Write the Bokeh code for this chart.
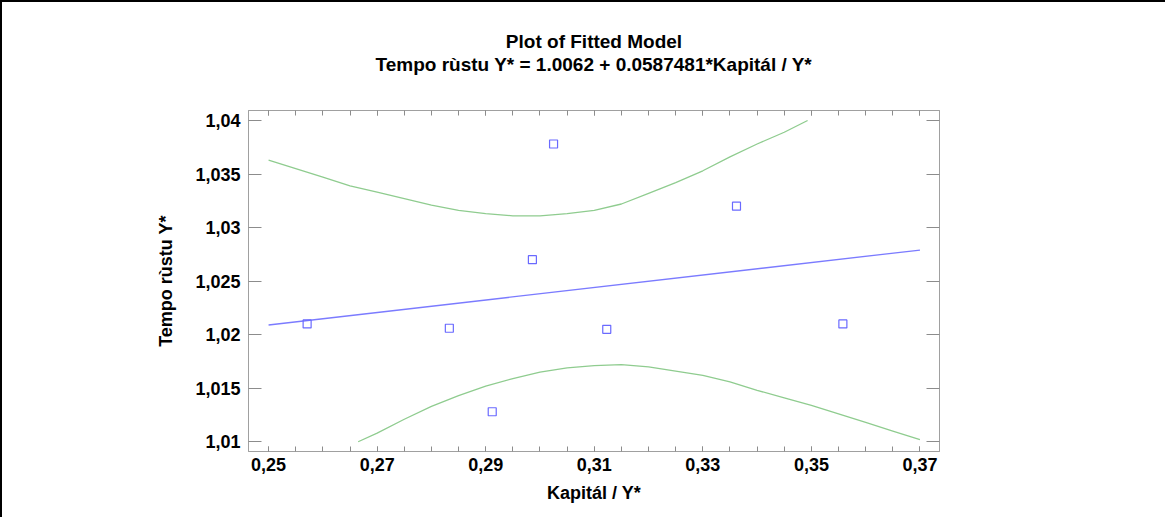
from bokeh.plotting import figure
from bokeh.models import LinearAxis, Title, FixedTicker, Range1d, CustomLabelingPolicy
from bokeh.embed import file_html
from bokeh.resources import INLINE

# observed data (Kapitál / Y*, Tempo rùstu Y*)
x_obs = [0.2571, 0.2833, 0.2912, 0.2986, 0.3025, 0.3123, 0.3362, 0.3558]
y_obs = [1.0210, 1.0206, 1.0128, 1.0270, 1.0378, 1.0205, 1.0320, 1.0210]

# fitted line endpoints
fit_x = [0.25, 0.37]
fit_y = [1.0209, 1.0279]

# confidence limits (upper)
up_x = [0.25, 0.255, 0.26, 0.265, 0.27, 0.275, 0.28, 0.285, 0.29, 0.295, 0.30,
        0.305, 0.31, 0.315, 0.32, 0.325, 0.33, 0.335, 0.34, 0.345, 0.3493]
up_y = [1.0363, 1.0355, 1.0347, 1.0339, 1.0333, 1.0327, 1.0321, 1.0316, 1.0313,
        1.0311, 1.0311, 1.0313, 1.0316, 1.0322, 1.0332, 1.0342, 1.0353, 1.0366,
        1.0378, 1.0389, 1.0400]

# confidence limits (lower)
lo_x = [0.2665, 0.27, 0.275, 0.28, 0.285, 0.29, 0.295, 0.30, 0.305, 0.31, 0.315,
        0.32, 0.325, 0.33, 0.335, 0.34, 0.345, 0.35, 0.355, 0.36, 0.365, 0.37]
lo_y = [1.0100, 1.0108, 1.0121, 1.0133, 1.0143, 1.0152, 1.0159, 1.0165, 1.0169,
        1.0171, 1.0172, 1.0170, 1.0166, 1.0162, 1.0156, 1.0148, 1.0141, 1.0134,
        1.0126, 1.0118, 1.0110, 1.0102]

x_ticks = [0.25, 0.27, 0.29, 0.31, 0.33, 0.35, 0.37]
x_tick_labels = ["0,25", "0,27", "0,29", "0,31", "0,33", "0,35", "0,37"]
x_minor = [0.25, 0.255, 0.26, 0.265, 0.27, 0.275, 0.28, 0.285, 0.29, 0.295, 0.30,
           0.305, 0.31, 0.315, 0.32, 0.325, 0.33, 0.335, 0.34, 0.345, 0.35, 0.355,
           0.36, 0.365, 0.37]
y_ticks = [1.01, 1.015, 1.02, 1.025, 1.03, 1.035, 1.04]
y_tick_labels = ["1,01", "1,015", "1,02", "1,025", "1,03", "1,035", "1,04"]

title_1 = "Plot of Fitted Model"
title_2 = "Tempo rùstu Y* = 1.0062 + 0.0587481*Kapitál / Y*"
x_label = "Kapitál / Y*"
y_label = "Tempo rùstu Y*"

FONT = "Liberation Sans"
GREY = "#a0a0a0"
TICK = "#8c8c8c"

p = figure(width=1165, height=517, output_backend="svg", toolbar_location=None,
           title=None,
           x_range=Range1d(0.2463, 0.3736), y_range=Range1d(1.00909, 1.04093),
           x_axis_label=x_label, y_axis_label=y_label,
           min_border_left=246, min_border_right=228, min_border_top=108,
           min_border_bottom=68)
p.styles = {"border-top": "2px solid black", "border-left": "2px solid black"}
p.xgrid.visible = False
p.ygrid.visible = False
p.outline_line_color = GREY
p.background_fill_color = "white"
p.border_fill_color = "white"

xt = FixedTicker(ticks=x_ticks, minor_ticks=x_minor)
yt = FixedTicker(ticks=y_ticks, minor_ticks=[])
no_labels = CustomLabelingPolicy(code="return new Set()")

def style_x(ax, labels=True):
    ax.ticker = xt
    ax.major_tick_in = 5
    ax.major_tick_out = 0
    ax.minor_tick_in = 5
    ax.minor_tick_out = 0
    ax.axis_line_color = GREY
    ax.major_tick_line_color = TICK
    ax.minor_tick_line_color = TICK
    ax.major_label_text_font = FONT
    ax.major_label_text_font_style = "bold"
    ax.major_label_text_color = "black"
    ax.major_label_standoff = 6
    if labels:
        ax.major_label_overrides = dict(zip(x_ticks, x_tick_labels))
        ax.major_label_text_font_size = "18px"
    else:
        ax.major_label_policy = no_labels
        ax.major_label_text_font_size = "1px"
        ax.major_label_standoff = 32

def style_y(ax, labels=True):
    ax.ticker = yt
    ax.major_tick_in = 13
    ax.major_tick_out = 0
    ax.minor_tick_in = 0
    ax.minor_tick_out = 0
    ax.axis_line_color = GREY
    ax.major_tick_line_color = TICK
    ax.major_label_text_font = FONT
    ax.major_label_text_font_style = "bold"
    ax.major_label_text_color = "black"
    ax.major_label_standoff = 8
    if labels:
        ax.major_label_overrides = dict(zip(y_ticks, y_tick_labels))
        ax.major_label_text_font_size = "18px"
    else:
        ax.major_label_policy = no_labels
        ax.major_label_text_font_size = "1px"
        ax.major_label_standoff = 0

style_x(p.xaxis[0])
style_y(p.yaxis[0])
for ax in (p.xaxis[0], p.yaxis[0]):
    ax.axis_label_text_font = FONT
    ax.axis_label_text_font_style = "bold"
    ax.axis_label_text_font_size = "18px"
    ax.axis_label_text_color = "black"
p.xaxis[0].axis_label_standoff = 9
p.yaxis[0].axis_label_standoff = 16

top_ax = LinearAxis()
style_x(top_ax, labels=False)
p.add_layout(top_ax, "above")
right_ax = LinearAxis()
style_y(right_ax, labels=False)
p.add_layout(right_ax, "right")

t2 = Title(text=title_2, align="center", text_font=FONT, text_font_style="bold",
           text_font_size="19px", text_color="black", standoff=0)
t1 = Title(text=title_1, align="center", text_font=FONT, text_font_style="bold",
           text_font_size="19px", text_color="black", standoff=0)
p.add_layout(t2, "above")
p.add_layout(t1, "above")

p.line(up_x, up_y, line_color="#8fcc8f", line_width=1.3)
p.line(lo_x, lo_y, line_color="#8fcc8f", line_width=1.3)
p.line(fit_x, fit_y, line_color="#7b7bff", line_width=1.3)
p.scatter(x_obs, y_obs, marker="square", size=8, fill_color=None,
          line_color="#6a6aff", line_width=1.2)

open("out.html", "w").write(file_html(p, INLINE))
